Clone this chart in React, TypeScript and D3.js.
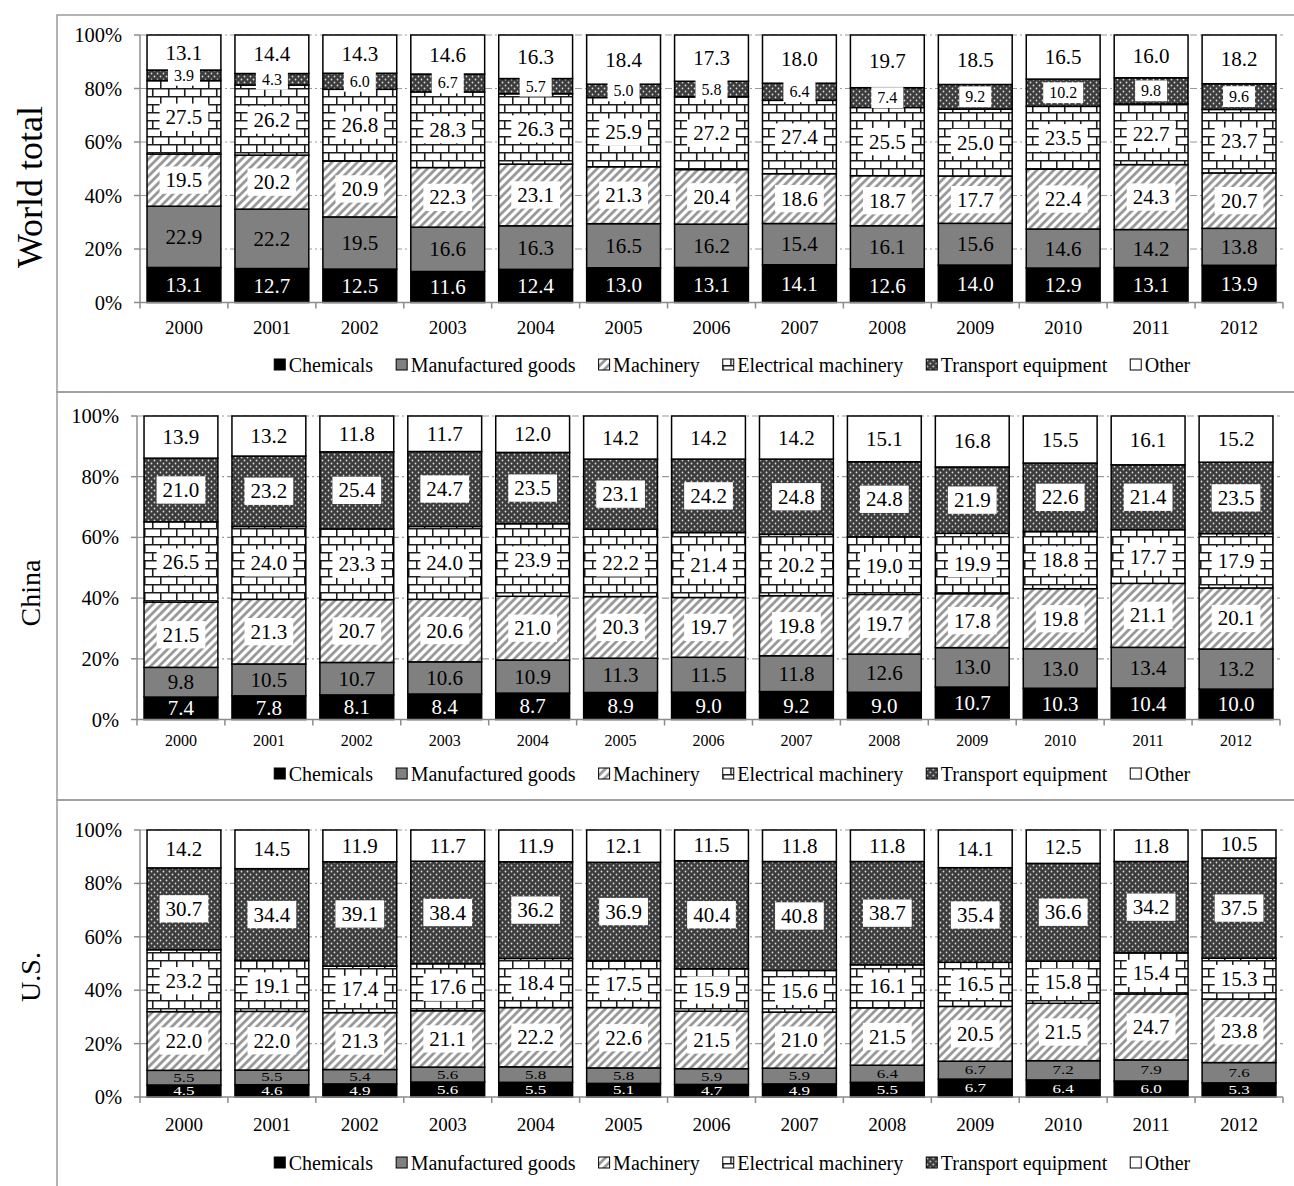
import React from "react";
import * as d3 from "d3";

// ---- data -------------------------------------------------------------
const years = ["2000", "2001", "2002", "2003", "2004", "2005", "2006", "2007", "2008", "2009", "2010", "2011", "2012"];
const categories = ["Chemicals", "Manufactured goods", "Machinery", "Electrical machinery", "Transport equipment", "Other"];
const yTicks = [0, 20, 40, 60, 80, 100];

// World total (% share)
const worldChemicals = [13.1, 12.7, 12.5, 11.6, 12.4, 13.0, 13.1, 14.1, 12.6, 14.0, 12.9, 13.1, 13.9];
const worldManufactured = [22.9, 22.2, 19.5, 16.6, 16.3, 16.5, 16.2, 15.4, 16.1, 15.6, 14.6, 14.2, 13.8];
const worldMachinery = [19.5, 20.2, 20.9, 22.3, 23.1, 21.3, 20.4, 18.6, 18.7, 17.7, 22.4, 24.3, 20.7];
const worldElectrical = [27.5, 26.2, 26.8, 28.3, 26.3, 25.9, 27.2, 27.4, 25.5, 25.0, 23.5, 22.7, 23.7];
const worldTransport = [3.9, 4.3, 6.0, 6.7, 5.7, 5.0, 5.8, 6.4, 7.4, 9.2, 10.2, 9.8, 9.6];
const worldOther = [13.1, 14.4, 14.3, 14.6, 16.3, 18.4, 17.3, 18.0, 19.7, 18.5, 16.5, 16.0, 18.2];

// China (% share)
const chinaChemicals = [7.4, 7.8, 8.1, 8.4, 8.7, 8.9, 9.0, 9.2, 9.0, 10.7, 10.3, 10.4, 10.0];
const chinaManufactured = [9.8, 10.5, 10.7, 10.6, 10.9, 11.3, 11.5, 11.8, 12.6, 13.0, 13.0, 13.4, 13.2];
const chinaMachinery = [21.5, 21.3, 20.7, 20.6, 21.0, 20.3, 19.7, 19.8, 19.7, 17.8, 19.8, 21.1, 20.1];
const chinaElectrical = [26.5, 24.0, 23.3, 24.0, 23.9, 22.2, 21.4, 20.2, 19.0, 19.9, 18.8, 17.7, 17.9];
const chinaTransport = [21.0, 23.2, 25.4, 24.7, 23.5, 23.1, 24.2, 24.8, 24.8, 21.9, 22.6, 21.4, 23.5];
const chinaOther = [13.9, 13.2, 11.8, 11.7, 12.0, 14.2, 14.2, 14.2, 15.1, 16.8, 15.5, 16.1, 15.2];

// U.S. (% share)
const usChemicals = [4.5, 4.6, 4.9, 5.6, 5.5, 5.1, 4.7, 4.9, 5.5, 6.7, 6.4, 6.0, 5.3];
const usManufactured = [5.5, 5.5, 5.4, 5.6, 5.8, 5.8, 5.9, 5.9, 6.4, 6.7, 7.2, 7.9, 7.6];
const usMachinery = [22.0, 22.0, 21.3, 21.1, 22.2, 22.6, 21.5, 21.0, 21.5, 20.5, 21.5, 24.7, 23.8];
const usElectrical = [23.2, 19.1, 17.4, 17.6, 18.4, 17.5, 15.9, 15.6, 16.1, 16.5, 15.8, 15.4, 15.3];
const usTransport = [30.7, 34.4, 39.1, 38.4, 36.2, 36.9, 40.4, 40.8, 38.7, 35.4, 36.6, 34.2, 37.5];
const usOther = [14.2, 14.5, 11.9, 11.7, 11.9, 12.1, 11.5, 11.8, 11.8, 14.1, 12.5, 11.8, 10.5];

// ---- styling ----------------------------------------------------------
const FONT = '"Liberation Serif", "Times New Roman", serif';
const fills = ["#000000", "#808080", "url(#hatch)", "url(#brick)", "url(#dots)", "#ffffff"];
const boxed = [false, false, true, true, true, false];
const textColors = ["#ffffff", "#000000", "#000000", "#000000", "#000000", "#000000"];

type Row = { year: string; [k: string]: number | string };

function buildRows(series: number[][]): Row[] {
  return years.map((y, i) => {
    const r: Row = { year: y };
    categories.forEach((c, k) => (r[c] = series[k][i]));
    return r;
  });
}

const panels = [
  {
    name: "World total",
    titleSize: 36, titleY: 187,
    rows: buildRows([worldChemicals, worldManufactured, worldMachinery, worldElectrical, worldTransport, worldOther]),
    frameTop: 15, frameBottom: 392,
    top: 35, bottom: 302.5, x0: 140, x1: 1283,
    yearY: 327, yearSize: 19, legendY: 365,
    labelSizes: [21, 21, 21, 21, 16, 21],
    squash: [1, 1, 1, 1, 1, 1],
  },
  {
    name: "China",
    titleSize: 28, titleY: 593,
    rows: buildRows([chinaChemicals, chinaManufactured, chinaMachinery, chinaElectrical, chinaTransport, chinaOther]),
    frameTop: 392, frameBottom: 800,
    top: 416, bottom: 719.5, x0: 137, x1: 1280,
    yearY: 740, yearSize: 16, legendY: 774,
    labelSizes: [21, 21, 21, 21, 21, 21],
    squash: [1, 1, 1, 1, 1, 1],
  },
  {
    name: "U.S.",
    titleSize: 28, titleY: 977,
    rows: buildRows([usChemicals, usManufactured, usMachinery, usElectrical, usTransport, usOther]),
    frameTop: 800, frameBottom: 1260,
    top: 830, bottom: 1097, x0: 140, x1: 1283,
    yearY: 1124, yearSize: 19, legendY: 1163,
    labelSizes: [17, 17, 21, 21, 21, 21],
    squash: [0.7, 0.7, 1, 1, 1, 1],
  },
];

let measureCtx: CanvasRenderingContext2D | null = null;
function textWidth(s: string, size: number): number {
  if (!measureCtx) measureCtx = document.createElement("canvas").getContext("2d");
  if (!measureCtx) return s.length * size * 0.5;
  measureCtx.font = `${size}px ${FONT}`;
  return measureCtx.measureText(s).width;
}

const stack = d3.stack<Row>().keys(categories).value((d, k) => d[k] as number).offset(d3.stackOffsetExpand);

function Legend({ y, cx }: { y: number; cx: number }) {
  const size = 20;
  const sw = 12;
  const gapAfterSwatch = 3;
  const gapBetween = 22.5;
  const widths = categories.map((c) => sw + gapAfterSwatch + textWidth(c, size));
  const total = d3.sum(widths) + gapBetween * (categories.length - 1);
  let x = cx - total / 2;
  const items = categories.map((c, i) => {
    const start = x;
    x += widths[i] + gapBetween;
    return (
      <g key={c} transform={`translate(${start},${y})`}>
        <rect x={0.5} y={-sw / 2} width={sw - 1} height={sw - 1} fill={fills[i]} stroke="#000" strokeWidth={1} />
        <text x={sw + gapAfterSwatch} y={0} dominantBaseline="central" fontSize={size} fontFamily={FONT} fill="#000">
          {c}
        </text>
      </g>
    );
  });
  return <g>{items}</g>;
}

function Panel({ p }: { p: (typeof panels)[number] }) {
  const x = d3.scaleBand<string>().domain(years).range([p.x0, p.x1]).paddingInner(0.16).paddingOuter(0.08);
  const y = d3.scaleLinear().domain([0, 1]).range([p.bottom, p.top]);
  const yPct = d3.scaleLinear().domain([0, 100]).range([p.bottom, p.top]);
  const series = stack(p.rows);
  const bw = x.bandwidth();
  const boundaries = d3.range(years.length + 1).map((i) => p.x0 + i * ((p.x1 - p.x0) / years.length));

  return (
    <g>
      {/* panel title */}
      <text
        transform={`translate(30,${p.titleY}) rotate(-90)`}
        textAnchor="middle"
        dominantBaseline="central"
        fontSize={p.titleSize}
        fontFamily={FONT}
      >
        {p.name}
      </text>

      {/* gridlines */}
      {yTicks.filter((t) => t > 0).map((t) => (
        <line key={t} x1={p.x0} x2={p.x1} y1={yPct(t)} y2={yPct(t)} stroke="#9a9a9a" strokeWidth={1.2} strokeDasharray="7,3,2,3" />
      ))}

      {/* stacked bars */}
      {series.map((s, k) => (
        <g key={categories[k]}>
          {s.map((d) => (
            <rect
              key={d.data.year}
              x={x(d.data.year as string)}
              y={y(d[1])}
              width={bw}
              height={y(d[0]) - y(d[1])}
              fill={fills[k]}
              stroke="#000"
              strokeWidth={1.5}
            />
          ))}
        </g>
      ))}

      {/* value labels */}
      {series.map((s, k) => (
        <g key={"lab" + categories[k]}>
          {s.map((d) => {
            const v = d.data[categories[k]] as number;
            const txt = v.toFixed(1);
            const fs = p.labelSizes[k];
            const cx = (x(d.data.year as string) as number) + bw / 2;
            const cy = (y(d[0]) + y(d[1])) / 2;
            const w = textWidth(txt, fs) + 12;
            const h = fs * 1.3;
            return (
              <g key={d.data.year as string}>
                {boxed[k] && <rect x={cx - w / 2} y={cy - h / 2} width={w} height={h} fill="#fff" />}
                <text
                  transform={`translate(${cx},${cy}) scale(1,${p.squash[k]})`}
                  textAnchor="middle"
                  dominantBaseline="central"
                  fontSize={fs}
                  fontFamily={FONT}
                  fill={textColors[k]}
                >
                  {txt}
                </text>
              </g>
            );
          })}
        </g>
      ))}

      {/* y axis */}
      <line x1={p.x0} x2={p.x0} y1={p.top} y2={p.bottom} stroke="#8c8c8c" strokeWidth={1.5} />
      {yTicks.map((t) => (
        <g key={t}>
          <line x1={p.x0 - 6} x2={p.x0} y1={yPct(t)} y2={yPct(t)} stroke="#8c8c8c" strokeWidth={1.5} />
          <text x={p.x0 - 18} y={yPct(t)} textAnchor="end" dominantBaseline="central" fontSize={20.5} fontFamily={FONT}>
            {t}%
          </text>
        </g>
      ))}

      {/* x axis */}
      <line x1={p.x0} x2={p.x1} y1={p.bottom} y2={p.bottom} stroke="#8c8c8c" strokeWidth={1.5} />
      {boundaries.map((bx, i) => (
        <line key={i} x1={bx} x2={bx} y1={p.bottom} y2={p.bottom + 6} stroke="#8c8c8c" strokeWidth={1.5} />
      ))}
      {years.map((yr) => (
        <text
          key={yr}
          x={(x(yr) as number) + bw / 2}
          y={p.yearY}
          textAnchor="middle"
          dominantBaseline="central"
          fontSize={p.yearSize}
          fontFamily={FONT}
        >
          {yr}
        </text>
      ))}

      <Legend y={p.legendY} cx={732} />
    </g>
  );
}

export default function App() {
  return (
    <svg
      width={1294}
      height={1186}
      viewBox="0 0 1294 1186"
      style={{ position: "absolute", left: 0, top: 0, background: "#fff" }}
    >
      <defs>
        <pattern id="hatch" width={6} height={6} patternUnits="userSpaceOnUse" patternTransform="rotate(45)">
          <rect width={6} height={6} fill="#fff" />
          <line x1={1.5} x2={1.5} y1={0} y2={6} stroke="#8f8f8f" strokeWidth={2.6} />
        </pattern>
        <pattern id="brick" width={16} height={16} patternUnits="userSpaceOnUse">
          <rect width={16} height={16} fill="#fff" />
          <path d="M0,0.75H16M0,8.75H16M0.75,0V8M8.75,8V16" stroke="#1e1e1e" strokeWidth={1.6} fill="none" />
        </pattern>
        <pattern id="dots" width={6} height={6} patternUnits="userSpaceOnUse">
          <rect width={6} height={6} fill="#3c3c3c" />
          <circle cx={1.5} cy={1.5} r={0.9} fill="#d8d8d8" />
          <circle cx={4.5} cy={4.5} r={0.9} fill="#d8d8d8" />
        </pattern>
      </defs>
      <rect width={1294} height={1186} fill="#fff" />

      {/* panel frames */}
      {panels.map((p) => (
        <rect
          key={"frame" + p.name}
          x={57}
          y={p.frameTop}
          width={1260}
          height={p.frameBottom - p.frameTop}
          fill="none"
          stroke="#9a9a9a"
          strokeWidth={1.5}
        />
      ))}

      {panels.map((p) => (
        <Panel key={p.name} p={p} />
      ))}
    </svg>
  );
}
